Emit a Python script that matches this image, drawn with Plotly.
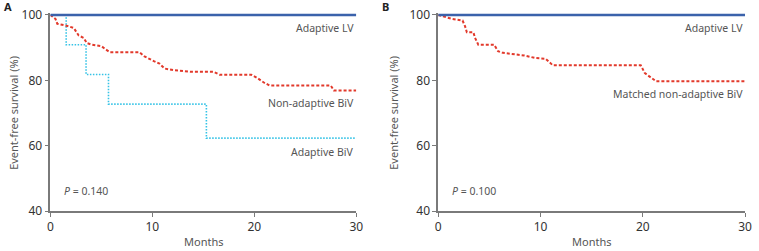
import plotly.graph_objects as go

# Panel A
a_lv_x = [0, 30]
a_lv_y = [100, 100]
a_nonbiv_x = [0, 0.5, 0.68, 1.48, 2.3, 2.78, 3.26, 3.58, 4.07, 5.03, 5.36, 5.84, 8.74, 9.23, 10.2, 10.7, 11.2,
              12.1, 13.7, 16.0, 16.6, 19.7, 20.3, 20.9, 21.5, 27.5, 27.8, 30]
a_nonbiv_y = [100, 98.8, 97.3, 96.8, 96.0, 93.7, 93.0, 91.4, 90.9, 90.4, 89.6, 88.6, 88.6, 87.3, 85.8, 85.1, 83.6,
              83.1, 82.6, 82.6, 81.7, 81.7, 80.7, 79.4, 78.4, 78.4, 76.9, 76.9]
a_biv_x = [0, 1.55, 1.55, 3.5, 3.5, 5.7, 5.7, 15.3, 15.3, 30]
a_biv_y = [100, 100, 90.9, 90.9, 81.8, 81.8, 72.7, 72.7, 62.3, 62.3]

# Panel B
b_lv_x = [0, 30]
b_lv_y = [100, 100]
b_nonbiv_x = [0, 1.35, 2.38, 2.63, 2.8, 3.44, 3.6, 3.92, 5.47, 5.85, 6.33, 8.4, 9.55, 10.5, 11.2, 19.8, 20.2,
              21.3, 30]
b_nonbiv_y = [100, 98.8, 98.3, 96.5, 94.7, 94.7, 93.0, 90.9, 90.9, 88.9, 88.4, 87.6, 86.8, 86.6, 84.6, 84.6, 82.2,
              79.7, 79.7]

x_ticks = [0, 10, 20, 30]
y_ticks = [40, 60, 80, 100]

BLUE = "#3b62ab"
RED = "#e2392b"
CYAN = "#35c3e6"
AXIS = "#7a7a7a"
TXT = "#555555"
FONT = "Noto Sans"

fig = go.Figure()

fig.add_trace(go.Scatter(x=a_biv_x, y=a_biv_y, mode="lines", line=dict(color=CYAN, width=1.6, dash="1.5px,1.5px"),
                         xaxis="x", yaxis="y"))
fig.add_trace(go.Scatter(x=a_nonbiv_x, y=a_nonbiv_y, mode="lines", line=dict(color=RED, width=2, dash="3px,2px"),
                         xaxis="x", yaxis="y"))
fig.add_trace(go.Scatter(x=a_lv_x, y=a_lv_y, mode="lines", line=dict(color=BLUE, width=2.5),
                         xaxis="x", yaxis="y"))
fig.add_trace(go.Scatter(x=b_nonbiv_x, y=b_nonbiv_y, mode="lines", line=dict(color=RED, width=2, dash="3px,2px"),
                         xaxis="x2", yaxis="y2"))
fig.add_trace(go.Scatter(x=b_lv_x, y=b_lv_y, mode="lines", line=dict(color=BLUE, width=2.5),
                         xaxis="x2", yaxis="y2"))

W, H = 759, 251
axis_common = dict(showgrid=False, zeroline=False, showline=True, linecolor=AXIS, linewidth=1.5,
                   ticks="outside", ticklen=4, tickcolor=AXIS, tickwidth=1,
                   tickfont=dict(family=FONT, size=12, color="#333333"))

fig.update_layout(
    width=W, height=H, margin=dict(l=0, r=0, t=13, b=40),
    paper_bgcolor="white", plot_bgcolor="white", showlegend=False,
    xaxis=dict(domain=[48 / W, 358 / W], range=[0, 30], tickvals=x_ticks, anchor="y", **axis_common),
    yaxis=dict(domain=[0, 1], range=[40, 100.6], tickvals=y_ticks, anchor="x", **axis_common),
    xaxis2=dict(domain=[441 / W, 752 / W], range=[0, 30], tickvals=x_ticks, anchor="y2", **axis_common),
    yaxis2=dict(domain=[0, 1], range=[40, 100.6], tickvals=y_ticks, anchor="x2", **axis_common),
)

ann = []
def txt(text, x, y, xref, yref, xanchor="right", size=10.5, color=TXT, **kw):
    ann.append(dict(text=text, x=x, y=y, xref=xref, yref=yref, xanchor=xanchor, yanchor="middle",
                    showarrow=False, font=dict(family=FONT, size=size, color=color), **kw))

txt("Adaptive LV", 30, 96.0, "x", "y")
txt("Non-adaptive BiV", 30, 73.2, "x", "y")
txt("Adaptive BiV", 30, 58.2, "x", "y")
txt("<i>P</i> = 0.140", 1.1, 46.0, "x", "y", xanchor="left")
txt("Adaptive LV", 30, 96.0, "x2", "y2")
txt("Matched non-adaptive BiV", 30, 75.9, "x2", "y2")
txt("<i>P</i> = 0.100", 1.2, 46.0, "x2", "y2", xanchor="left")

ph = 198.0
def py(p):
    return (211 - p) / ph

txt("Months", 203 / W, py(241), "paper", "paper", xanchor="center", size=11)
txt("Months", 596 / W, py(241), "paper", "paper", xanchor="center", size=11)
txt("Event-free survival (%)", 11 / W, py(113), "paper", "paper", xanchor="center", size=11, textangle=-90)
txt("Event-free survival (%)", 396 / W, py(113), "paper", "paper", xanchor="center", size=11, textangle=-90)
txt("<b>A</b>", 5 / W, py(6), "paper", "paper", xanchor="center", size=11, color="#222222")
txt("<b>B</b>", 388 / W, py(6), "paper", "paper", xanchor="center", size=11, color="#222222")

fig.update_layout(annotations=ann)
fig.write_html("out.html")
